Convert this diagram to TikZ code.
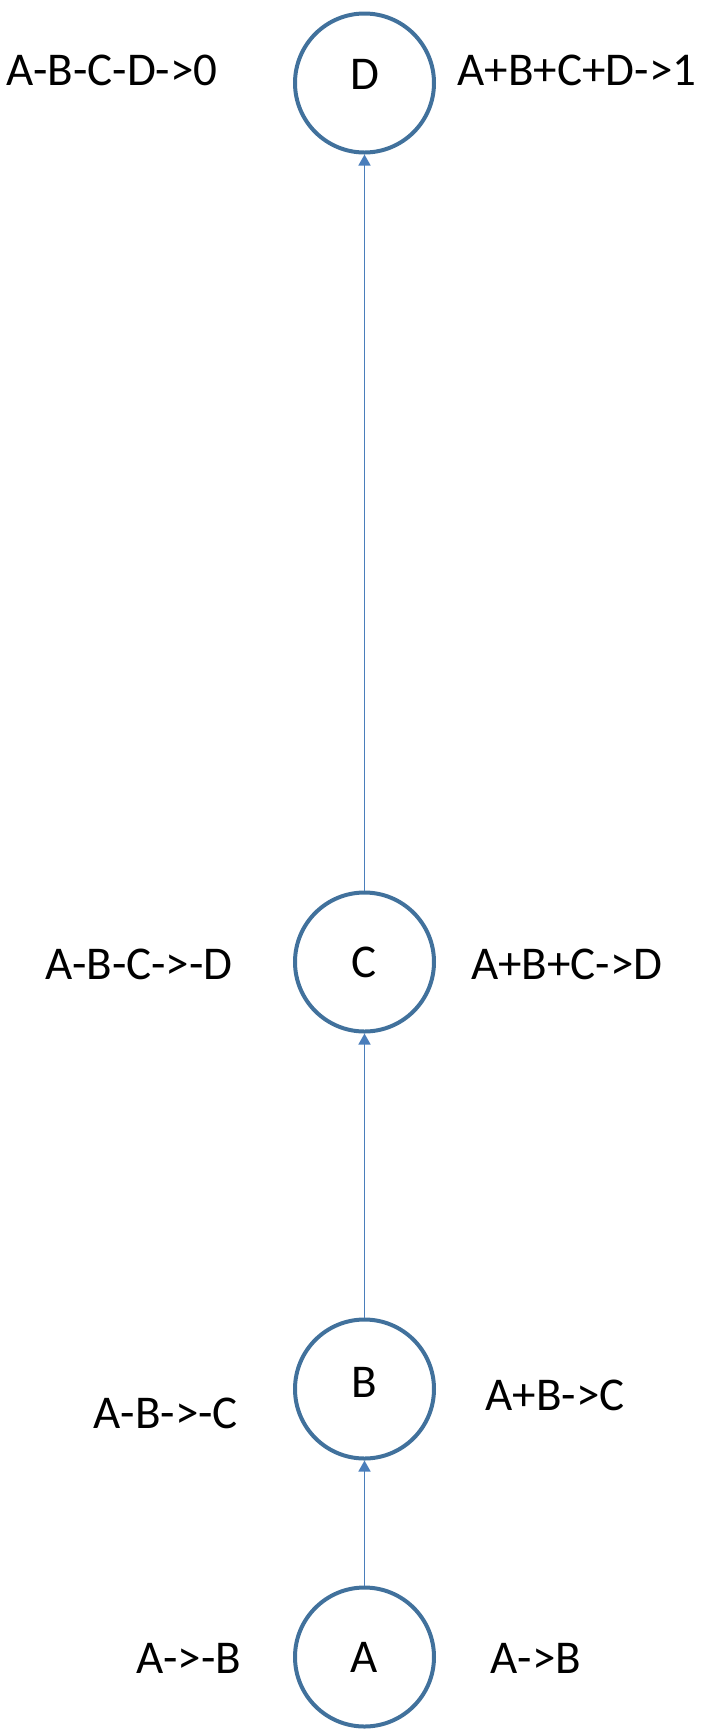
\documentclass[tikz,border=0pt]{standalone}
\usepackage{fontspec}
\setmainfont{Carlito}
\usetikzlibrary{arrows.meta}
\definecolor{ringblue}{HTML}{41719C}
\definecolor{lineblue}{HTML}{4A7EBB}
\tikzset{
	vtx/.style={circle,draw=ringblue,line width=2pt,minimum size=69.5pt,inner sep=0pt,font=\fontsize{23.5}{27}\selectfont},
	rule/.style={inner sep=0pt,font=\fontsize{23.5}{27}\selectfont},
	edge/.style={draw=lineblue,line width=0.75pt,-{Triangle[width=6pt,length=5.5pt]}}
}
\begin{document}
\begin{tikzpicture}[x=0.5pt,y=0.5pt]
	\useasboundingbox (0,0) rectangle (714,-1731);
	\node[vtx] (A) at (364.5,-1657) {A};
	\node[vtx] (B) at (364.5,-1389) {\raisebox{7pt}{B}};
	\node[vtx] (C) at (364.5,-962) {C};
	\node[vtx] (D) at (364.5,-83) {\raisebox{9pt}{D}};
	\draw[edge] (A) -- (B);
	\draw[edge] (B) -- (C);
	\draw[edge] (C) -- (D);
	\node[rule] (a1) at (189,-1658) {A->-B};
	\node[rule] (a2) at (536,-1658) {A->B};
	\node[rule] (b1) at (166,-1413) {A-B->-C};
	\node[rule] (b2) at (555,-1395) {A+B->C};
	\node[rule] (c1) at (139,-964) {A-B-C->-D};
	\node[rule] (c2) at (567,-964) {A+B+C->D};
	\node[rule] (d1) at (112,-70) {A-B-C-D->0};
	\node[rule] (d2) at (577,-70) {A+B+C+D->1};
\end{tikzpicture}
\end{document}
